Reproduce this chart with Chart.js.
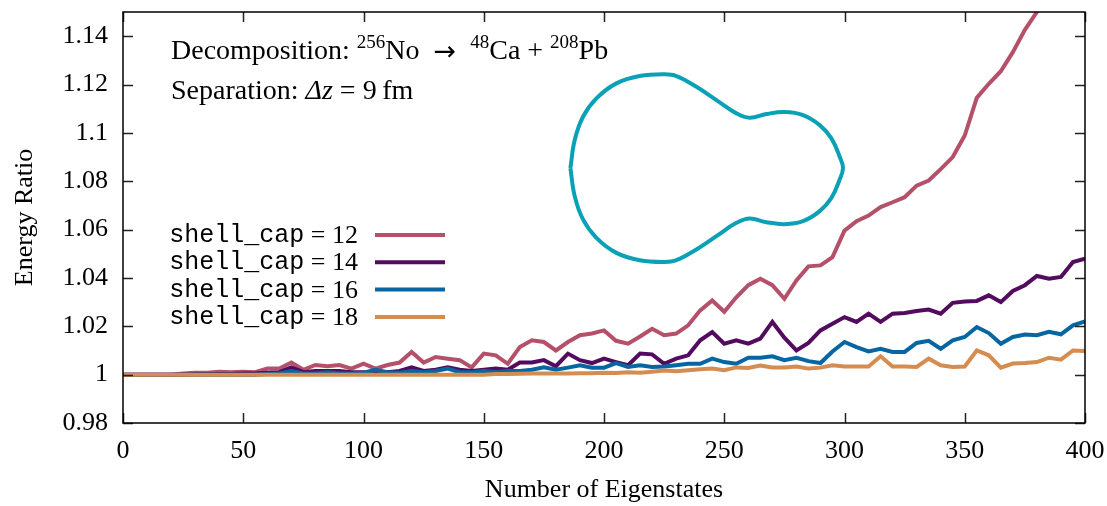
<!DOCTYPE html>
<html>
<head>
<meta charset="utf-8">
<script src="https://cdn.jsdelivr.net/npm/chart.js@4.4.1/dist/chart.umd.min.js"></script>
<style>
  html, body { margin: 0; padding: 0; background: #fff; }
</style>
</head>
<body>
<canvas id="chart" width="1107" height="506"></canvas>
<script>
// number of eigenstates (sampled every 5)
const eigenstates = [0,5,10,15,20,25,30,35,40,45,50,55,60,65,70,75,80,85,90,95,100,
  105,110,115,120,125,130,135,140,145,150,155,160,165,170,175,180,185,190,195,200,
  205,210,215,220,225,230,235,240,245,250,255,260,265,270,275,280,285,290,295,300,
  305,310,315,320,325,330,335,340,345,350,355,360,365,370,375,380,385,390,395,400];

const cap12 = [1.000,1.000,1.000,1.000,1.000,
  1.0005,1.0008,1.0008,1.0012,1.001,1.0012,1.001,1.0025,1.0025,1.005,1.002,1.004,1.0035,1.004,
  1.0025,1.0045,1.0025,1.004,1.005,1.0094,1.005,1.0073,1.0066,1.006,1.003,1.0087,1.008,1.0045,1.0114,1.0142,1.0135,1.010,
  1.0135,1.0163,1.017,1.0183,1.014,1.0128,1.0158,1.019,1.0163,1.017,1.0204,1.0266,1.0307,1.026,1.032,1.037,1.0397,1.037,1.0314,
  1.039,1.0448,1.0452,1.0486,1.0596,1.0635,1.0658,1.0693,1.0713,1.0734,1.0782,1.0803,1.085,
  1.090,1.0989,1.1145,1.1203,1.1255,1.1334,1.1426,1.150,1.157,1.164,1.171,1.178];

const cap14 = [1.000,1.000,1.000,1.000,1.000,1.000,
  1.0002,1.0002,1.0003,1.0003,1.0005,1.0005,1.0008,1.001,1.003,1.001,1.0015,1.0015,1.0015,
  1.001,1.001,1.0008,1.001,1.0015,1.003,1.0015,1.002,1.003,1.002,1.0015,1.002,1.0025,1.002,1.005,1.005,1.006,1.0035,
  1.0087,1.006,1.0048,1.0066,1.0052,1.0039,1.0087,1.0084,1.0045,1.0066,1.008,1.0142,1.0176,1.0128,1.0142,1.0128,1.0149,1.0218,1.0153,
  1.010,1.0131,1.0183,1.0211,1.0238,1.0218,1.0252,1.0218,1.0252,1.0255,1.0263,1.0269,1.0252,
  1.0297,1.0303,1.0305,1.0328,1.030,1.0346,1.037,1.0408,1.0397,1.0404,1.0466,1.048];

const cap16 = [1.000,1.000,1.000,1.000,1.000,1.000,1.000,1.000,1.000,1.000,1.000,1.000,
  1.0003,1.0005,1.0015,1.0005,1.0005,1.001,1.0005,
  1.0005,1.0008,1.002,1.001,1.0008,1.0015,1.001,1.0015,1.0025,1.001,1.001,1.0015,1.001,1.0015,1.0015,1.002,1.003,1.002,
  1.0029,1.0039,1.0029,1.0029,1.0048,1.0032,1.0039,1.0032,1.0034,1.0039,1.0045,1.0045,1.0066,1.0052,1.0045,1.007,1.007,1.0076,1.006,
  1.007,1.0056,1.0048,1.0096,1.0135,1.0114,1.0096,1.0107,1.0094,1.0094,1.0131,1.014,1.0107,
  1.0142,1.0156,1.0197,1.0172,1.0128,1.0156,1.0166,1.0163,1.0177,1.0167,1.0204,1.022];

const cap18 = [1.000,1.000,1.000,1.000,1.000,1.000,1.000,1.000,1.000,1.000,1.000,
  1.000,1.000,1.000,1.000,1.000,1.000,1.000,1.000,1.000,1.000,
  1.000,1.000,1.000,1.000,1.000,1.000,1.000,1.000,1.000,1.000,
  1.0003,1.0003,1.0004,1.0005,1.0005,1.0005,
  1.0005,1.0006,1.0006,1.0008,1.0007,1.001,1.0008,1.0012,1.0017,1.0014,1.0018,1.0022,1.0025,1.0018,1.003,1.0028,1.0038,1.003,1.003,
  1.0034,1.0025,1.0029,1.0039,1.0034,1.0034,1.0034,1.0076,1.0034,1.0034,1.0032,1.0066,1.0039,
  1.0032,1.0034,1.010,1.008,1.0029,1.0046,1.0048,1.0052,1.007,1.0062,1.010,1.0098];

const seriesLabels = ['12', '14', '16', '18'];
const seriesColors = ['#b5506b', '#520b5e', '#0566a2', '#d58c50'];

// nuclear shape outline (upper half profile), arbitrary length units
const shapeZ   = [-13.63,-13.2,-12.37,-11.03,-9.03,-6.7,-4.2,-3.03,-1.03,0.97,2.97,4.3,5.97,7.8,9.63,11.3,12.47,13.3,13.63];
const shapeRho = [0,2.8,5.13,6.97,8.47,9.2,9.37,9.2,8.13,6.8,5.47,5.03,5.4,5.6,5.3,4.3,2.97,1.13,0];

const xTicks = [0,50,100,150,200,250,300,350,400];
const yTicks = [0.98,1.00,1.02,1.04,1.06,1.08,1.10,1.12,1.14];

const SERIF = '"Liberation Serif", "DejaVu Serif", serif';
const MONO = '"Liberation Mono", "DejaVu Sans Mono", monospace';

const allSeries = [cap12, cap14, cap16, cap18];
const lineSets = allSeries.map((vals, i) => ({
    label: seriesLabels[i],
    data: eigenstates.map((e, k) => ({ x: e, y: vals[k] })),
    borderColor: seriesColors[i],
    borderWidth: 4,
    pointRadius: 0,
    tension: 0,
    order: 3 - i,
    xAxisID: 'x',
    yAxisID: 'y'
}));

// closed outline: top half left->right, bottom half right->left
const outline = shapeZ.map((z, k) => ({ x: z, y: shapeRho[k] }))
    .concat(shapeZ.slice().reverse().slice(1).map((z, k) => ({ x: z, y: -shapeRho[shapeRho.length - 2 - k] })));

const shapeSet = {
    label: 'shape',
    data: outline,
    borderColor: '#0aa0b5',
    borderWidth: 4,
    pointRadius: 0,
    tension: 0.4,
    order: 5,
    xAxisID: 'sx',
    yAxisID: 'sy'
};

function drawRuns(ctx, x, y, runs) {
    runs.forEach(r => {
        ctx.font = r.font;
        ctx.fillText(r.t, x, y + (r.dy || 0));
        x += ctx.measureText(r.t).width;
    });
}

const decorPlugin = {
    id: 'decor',
    afterDatasetsDraw(chart) {
        const ctx = chart.ctx;
        const a = chart.chartArea;
        const xs = chart.scales.x, ys = chart.scales.y;
        ctx.save();
        // inward ticks on all four sides
        ctx.strokeStyle = '#222';
        ctx.lineWidth = 1.5;
        ctx.beginPath();
        xTicks.forEach(v => {
            const px = Math.round(xs.getPixelForValue(v)) + 0.5;
            ctx.moveTo(px, a.bottom); ctx.lineTo(px, a.bottom - 10);
            ctx.moveTo(px, a.top); ctx.lineTo(px, a.top + 10);
        });
        yTicks.forEach(v => {
            const py = Math.round(ys.getPixelForValue(v)) + 0.5;
            ctx.moveTo(a.left, py); ctx.lineTo(a.left + 10, py);
            ctx.moveTo(a.right, py); ctx.lineTo(a.right - 10, py);
        });
        ctx.stroke();
        // frame
        ctx.strokeStyle = '#000';
        ctx.strokeRect(a.left, a.top, a.right - a.left, a.bottom - a.top);
        ctx.restore();
    },
    afterDraw(chart) {
        const ctx = chart.ctx;
        const a = chart.chartArea;
        ctx.save();
        ctx.fillStyle = '#000';
        ctx.textBaseline = 'alphabetic';
        ctx.textAlign = 'left';

        // annotation text
        const big = '28px ' + SERIF, sup = '19px ' + SERIF;
        drawRuns(ctx, 171, 59, [
            { t: 'Decomposition: ', font: big },
            { t: '256', font: sup, dy: -11 },
            { t: 'No\u2002', font: big },
            { t: '\u2192', font: '27px "DejaVu Sans", sans-serif', dy: 1 },
            { t: '\u2002', font: big },
            { t: '48', font: sup, dy: -11 },
            { t: 'Ca + ', font: big },
            { t: '208', font: sup, dy: -11 },
            { t: 'Pb', font: big }
        ]);
        drawRuns(ctx, 171, 99, [
            { t: 'Separation: ', font: big },
            { t: '\u0394z', font: 'italic 28px ' + SERIF },
            { t: ' = 9\u2009fm', font: big }
        ]);

        // legend
        seriesLabels.forEach((lab, i) => {
            const yc = 235 + i * 27.3;
            ctx.font = '25px ' + MONO;
            const w1 = ctx.measureText('shell_cap').width;
            ctx.font = '26px ' + SERIF;
            const tail = ' = ' + lab;
            const w2 = ctx.measureText(tail).width;
            const right = 358;
            ctx.font = '25px ' + MONO;
            ctx.fillText('shell_cap', right - w1 - w2, yc + 7);
            ctx.font = '26px ' + SERIF;
            ctx.fillText(tail, right - w2, yc + 8);
            ctx.strokeStyle = seriesColors[i];
            ctx.lineWidth = 4;
            ctx.beginPath();
            ctx.moveTo(375, yc); ctx.lineTo(445, yc);
            ctx.stroke();
        });

        // axis titles
        ctx.font = '26px ' + SERIF;
        ctx.textAlign = 'center';
        ctx.textBaseline = 'middle';
        ctx.fillText('Number of Eigenstates', (a.left + a.right) / 2, 490);
        ctx.translate(25, (a.top + a.bottom) / 2);
        ctx.rotate(-Math.PI / 2);
        ctx.fillText('Energy Ratio', 0, 0);
        ctx.restore();
    }
};

const tickFont = { family: SERIF, size: 26 };

new Chart(document.getElementById('chart').getContext('2d'), {
    type: 'line',
    data: { datasets: lineSets.concat([shapeSet]) },
    options: {
        responsive: false,
        animation: false,
        events: [],
        layout: { padding: { top: 12, right: 22, left: 0, bottom: 0 } },
        plugins: { legend: { display: false }, tooltip: { enabled: false } },
        scales: {
            x: {
                type: 'linear', position: 'bottom', min: 0, max: 400,
                afterBuildTicks: s => { s.ticks = xTicks.map(v => ({ value: v })); },
                afterFit: s => { s.height = 83; s.paddingLeft = 0; s.paddingRight = 0; },
                grid: { display: false, drawTicks: false },
                border: { display: false },
                ticks: { font: tickFont, color: '#000', padding: 13, maxRotation: 0, autoSkip: false }
            },
            y: {
                type: 'linear', position: 'left', min: 0.98, max: 1.15,
                afterBuildTicks: s => { s.ticks = yTicks.map(v => ({ value: v })); },
                afterFit: s => { s.width = 123; s.paddingTop = 0; s.paddingBottom = 0; },
                grid: { display: false, drawTicks: false },
                border: { display: false },
                ticks: { font: tickFont, color: '#000', padding: 15, autoSkip: false,
                         callback: v => String(+v.toFixed(2)) }
            },
            sx: { type: 'linear', axis: 'x', position: 'bottom', display: false, min: -58.37, max: 37.83 },
            sy: { type: 'linear', axis: 'y', position: 'left', display: false, min: -25.47, max: 15.6 }
        }
    },
    plugins: [decorPlugin]
});
</script>
</body>
</html>
